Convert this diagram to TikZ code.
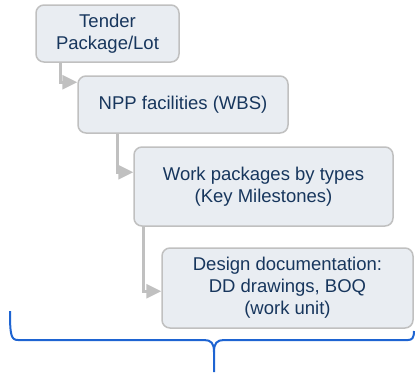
\documentclass[tikz,border=0pt]{standalone}
\usepackage{fontspec}
\setmainfont{Liberation Sans}
\usetikzlibrary{arrows.meta}
\definecolor{boxfill}{HTML}{E9EDF2}
\definecolor{boxline}{HTML}{C0C0C0}
\definecolor{boxtext}{HTML}{17365D}
\definecolor{bracecol}{HTML}{1E64D2}
\begin{document}
\begin{tikzpicture}[x=1pt, y=-1pt,
    level/.style={draw=boxline, fill=boxfill, line width=1.5pt, rounded corners=8pt,
        text=boxtext, align=center, inner sep=0pt,
        font=\fontsize{18.5}{22}\selectfont},
    conn/.style={draw=boxline, line width=3pt,
        -{Triangle[length=15pt,width=14pt]}},
    brace/.style={draw=bracecol, line width=2pt}]
        \useasboundingbox (0,0) rectangle (416,373);

        \node[level, minimum width=143pt, minimum height=57pt] (lot) at (107.5,33.5) {Tender\\Package/Lot};
        \node[level, minimum width=210pt, minimum height=57pt] (wbs) at (183,104.5) {NPP facilities (WBS)};
        \node[level, minimum width=259pt, minimum height=79pt] (work) at (263.5,186.5) {Work packages by types\\(Key Milestones)};
        \node[level, minimum width=251pt, minimum height=80pt] (unit) at (287.5,288) {Design documentation:\\DD drawings, BOQ\\(work unit)};

        \draw[conn] ([xshift=25pt]lot.south west) |- ([yshift=-7pt]wbs.north west);
        \draw[conn] ([xshift=40pt]wbs.south west) |- ([yshift=-26pt]work.north west);
        \draw[conn] ([xshift=10pt]work.south west) |- ([yshift=-44pt]unit.north west);

        % brace under the levels
        \draw[brace] (10,311) .. controls (10,335) and (11,340) .. (18,340) -- (204,340)
            .. controls (211,340) and (214,343) .. (214,352) -- (214,372);
        \draw[brace] (214,352) .. controls (214,343) and (217,340) .. (224,340) -- (408,340)
            .. controls (412,340) and (414,338) .. (414,331);
    \end{tikzpicture}
\end{document}
